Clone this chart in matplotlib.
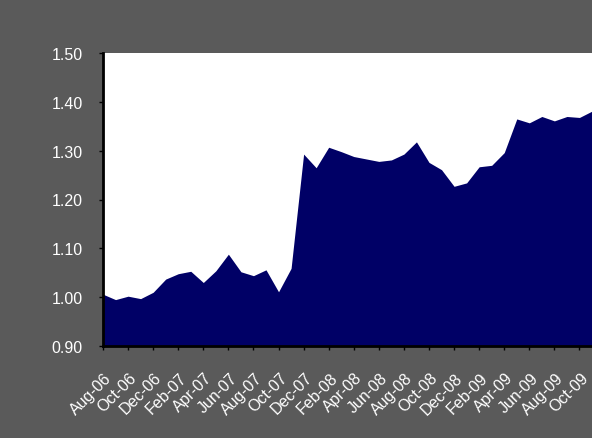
import matplotlib
matplotlib.use('Agg')
from matplotlib import pyplot as plt
import matplotlib.transforms as mtransforms
import numpy as np

plt.rcParams['font.family']= ['Liberation Sans', 'DejaVu Sans']

months= ['Aug-06','Sep-06','Oct-06','Nov-06','Dec-06','Jan-07','Feb-07','Mar-07','Apr-07','May-07',
         'Jun-07','Jul-07','Aug-07','Sep-07','Oct-07','Nov-07','Dec-07','Jan-08','Feb-08','Mar-08',
         'Apr-08','May-08','Jun-08','Jul-08','Aug-08','Sep-08','Oct-08','Nov-08','Dec-08','Jan-09',
         'Feb-09','Mar-09','Apr-09','May-09','Jun-09','Jul-09','Aug-09','Sep-09','Oct-09','Nov-09']
values= [1.006, 0.995, 1.002, 0.997, 1.010, 1.037, 1.048, 1.053, 1.030, 1.054,
         1.088, 1.052, 1.044, 1.056, 1.011, 1.059, 1.293, 1.265, 1.307, 1.298,
         1.288, 1.283, 1.278, 1.281, 1.293, 1.318, 1.276, 1.261, 1.227, 1.234,
         1.267, 1.270, 1.296, 1.365, 1.357, 1.370, 1.361, 1.370, 1.368, 1.381]
yticks= [0.90, 1.00, 1.10, 1.20, 1.30, 1.40, 1.50]

bg= '#5a5a5a'
navy= '#000066'

fig= plt.figure(figsize=(5.92,4.39), dpi=100, facecolor=bg)
ax= fig.add_axes([103/592., 92/439., 1-103/592., 293/439.])
ax.set_facecolor('white')

x= np.arange(len(values))
ax.fill_between(x, 0.90, values, color=navy, linewidth=0)

ax.set_xlim(0, len(values)-1)
ax.set_ylim(0.90, 1.50)
ax.set_yticks(yticks)
ax.set_yticklabels(['%.2f'%v for v in yticks])
ax.set_xticks(x[::2])
ax.set_xticklabels(months[::2], rotation=45, ha='right', va='top', rotation_mode='anchor')

for s in ['top','right']:
    ax.spines[s].set_visible(False)
for s in ['left','bottom']:
    ax.spines[s].set_color('black')
    ax.spines[s].set_linewidth(2)
ax.tick_params(axis='both', colors='black', labelcolor='white', labelsize=11.5, length=3, width=1, direction='out')
ax.tick_params(axis='y', pad=11.5)
ax.tick_params(axis='x', pad=1)

# excel puts the slanted labels lower than matplotlib does
offset= mtransforms.ScaledTranslation(1/100., -18/100., fig.dpi_scale_trans)
for lab in ax.get_xticklabels():
    lab.set_transform(lab.get_transform() + offset)

plt.savefig('out.png', dpi=100, facecolor=bg)
